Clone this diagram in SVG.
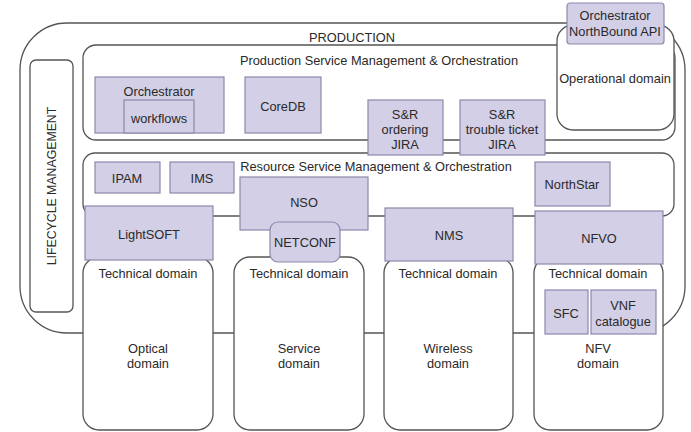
<svg xmlns="http://www.w3.org/2000/svg" width="691" height="432" viewBox="0 0 691 432">
<style>
.frame{fill:#fff;stroke:#555;stroke-width:1.3}
.box{fill:#d2cfe6;stroke:#8c88aa;stroke-width:1.2}
text{font-family:"Liberation Sans",Arial,sans-serif;font-size:12.8px;fill:#2a2a2a;text-anchor:middle;dominant-baseline:central}
</style>
<rect width="691" height="432" fill="#fff"/>
<g id="production"><rect class="frame" x="20" y="23" width="665" height="310" rx="47"/><text x="352" y="37">PRODUCTION</text></g>
<g id="lifecycle"><rect class="frame" x="30" y="60" width="43" height="252" rx="6"/><text transform="translate(52,186) rotate(-90)" style="font-size:12.3px">LIFECYCLE MANAGEMENT</text></g>
<g id="psmo"><rect class="frame" x="83" y="45" width="592" height="95" rx="13"/><text x="379" y="60">Production Service Management &amp; Orchestration</text></g>
<g id="operational"><rect class="frame" x="557" y="25" width="117" height="105" rx="16"/><text x="615" y="78">Operational domain</text></g>
<g id="northbound"><rect class="box" x="567" y="3" width="97" height="41" rx="3"/><text x="615" y="15">Orchestrator</text><text x="615" y="31">NorthBound API</text></g>
<g id="orchestrator"><rect class="box" x="95" y="77" width="129" height="56"/><text x="159" y="91">Orchestrator</text></g>
<g id="workflows"><rect class="box" x="124" y="100" width="70" height="33"/><text x="159" y="118">workflows</text></g>
<g id="coredb"><rect class="box" x="245" y="77" width="76" height="56"/><text x="283" y="106">CoreDB</text></g>
<g id="rsmo"><rect class="frame" x="83" y="153" width="591" height="63" rx="12"/><text x="376" y="166">Resource Service Management &amp; Orchestration</text></g>
<g id="sr-ordering"><rect class="box" x="368" y="100" width="75" height="55"/><text x="405" y="114">S&amp;R</text><text x="405" y="129">ordering</text><text x="405" y="144">JIRA</text></g>
<g id="sr-trouble"><rect class="box" x="460" y="100" width="85" height="55"/><text x="502" y="114">S&amp;R</text><text x="502" y="129">trouble ticket</text><text x="502" y="144">JIRA</text></g>
<g id="ipam"><rect class="box" x="95" y="162" width="65" height="31"/><text x="127" y="178">IPAM</text></g>
<g id="ims"><rect class="box" x="170" y="162" width="64" height="31"/><text x="202" y="178">IMS</text></g>
<g id="northstar"><rect class="box" x="535" y="162" width="75" height="44"/><text x="572" y="184">NorthStar</text></g>
<g id="optical"><rect class="frame" x="83" y="257" width="130" height="173" rx="16"/><text x="148" y="273">Technical domain</text><text x="148" y="348">Optical</text><text x="148" y="363">domain</text></g>
<g id="service"><rect class="frame" x="234" y="257" width="130" height="173" rx="16"/><text x="299" y="273">Technical domain</text><text x="299" y="348">Service</text><text x="299" y="363">domain</text></g>
<g id="wireless"><rect class="frame" x="384" y="257" width="129" height="173" rx="16"/><text x="448" y="273">Technical domain</text><text x="448" y="348">Wireless</text><text x="448" y="363">domain</text></g>
<g id="nfv"><rect class="frame" x="534" y="257" width="129" height="173" rx="16"/><text x="598" y="273">Technical domain</text><text x="598" y="348">NFV</text><text x="598" y="363">domain</text></g>
<g id="sfc"><rect class="box" x="545" y="290" width="43" height="44"/><text x="566" y="313">SFC</text></g>
<g id="vnf"><rect class="box" x="591" y="290" width="65" height="44"/><text x="623" y="305">VNF</text><text x="623" y="321">catalogue</text></g>
<g id="lightsoft"><rect class="box" x="85" y="206" width="128" height="54"/><text x="149" y="234">LightSOFT</text></g>
<g id="nso"><rect class="box" x="240" y="177" width="128" height="53"/><text x="304" y="202">NSO</text></g>
<g id="netconf"><rect class="box" x="270" y="222" width="70" height="40" rx="8"/><text x="305" y="242">NETCONF</text></g>
<g id="nms"><rect class="box" x="385" y="208" width="128" height="53"/><text x="449" y="235">NMS</text></g>
<g id="nfvo"><rect class="box" x="535" y="211" width="128" height="53"/><text x="599" y="238">NFVO</text></g>
<g id="connectors"></g>
</svg>
